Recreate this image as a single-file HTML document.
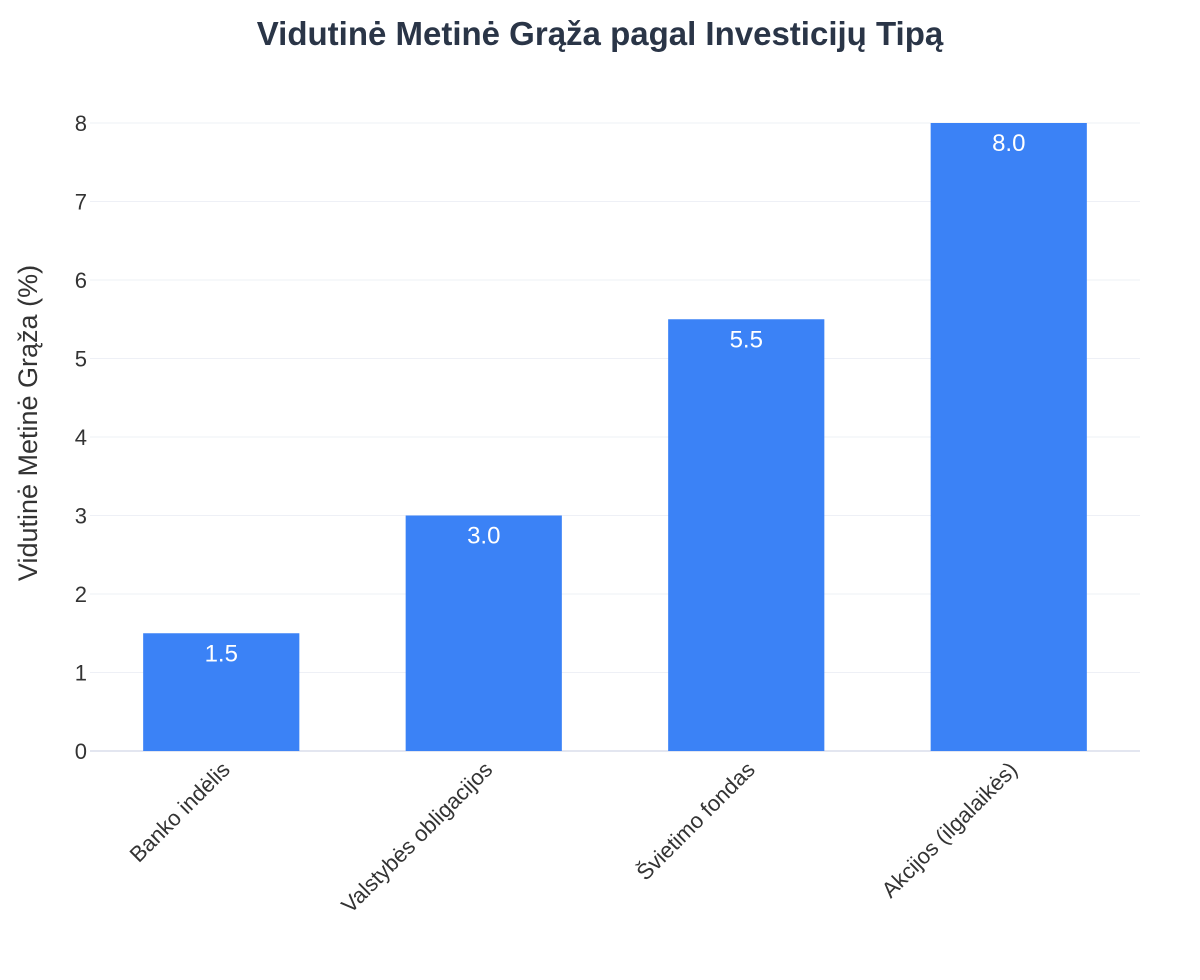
<!DOCTYPE html>
<html><head><meta charset="utf-8"><style>
body{margin:0;background:#fff;}
svg text{font-family:"Liberation Sans",Arial,sans-serif;}
</style></head><body>
<svg id="chart" width="1200" height="975" viewBox="0 0 1200 975" xmlns="http://www.w3.org/2000/svg">
<rect width="1200" height="975" fill="#fff"/>
<text x="600" y="45" text-anchor="middle" font-size="33" font-weight="bold" fill="#2a3547">Vidutinė Metinė Grąža pagal Investicijų Tipą</text>
<text transform="translate(37,423) rotate(-90)" text-anchor="middle" font-size="27" fill="#333">Vidutinė Metinė Grąža (%)</text>
<g id="grid"></g><g id="bars"></g><g id="labels"></g>
</svg>
<script>
const categories=["Banko indėlis","Valstybės obligacijos","Švietimo fondas","Akcijos (ilgalaikės)"];
const values=[1.5,3.0,5.5,8.0];
const yTicks=[0,1,2,3,4,5,6,7,8];
const NS="http://www.w3.org/2000/svg";
const x0=90,x1=1140,yZero=751,yTop=123,yMax=8;
const y=v=>yZero-(v/yMax)*(yZero-yTop);
const band=(x1-x0)/categories.length;
const xc=i=>x0+band*(i+0.5);
const bw=band*0.595;
function mk(t,a,p){const e=document.createElementNS(NS,t);for(const k in a)e.setAttribute(k,a[k]);p.appendChild(e);return e;}
const grid=document.getElementById('grid'),bars=document.getElementById('bars'),labels=document.getElementById('labels');
yTicks.forEach(t=>{
  const l=mk('line',{x1:x0,x2:x1,y1:y(t),y2:y(t),stroke:t===0?'#e3e6f0':'#eef0f6','stroke-width':t===0?2:1},grid);
  
  
  const tx=mk('text',{x:87,y:y(t)+8,'text-anchor':'end','font-size':22,fill:'#333'},grid);
  tx.textContent=t;
  
  
});
categories.forEach((c,i)=>{
  const r=mk('rect',{x:xc(i)-bw/2,y:y(values[i]),width:bw,height:yZero-y(values[i]),fill:'#3b82f6'},bars);
  
  
  const v=mk('text',{x:xc(i),y:y(values[i])+28,'text-anchor':'middle','font-size':24,fill:'#fff'},labels);
  v.textContent=values[i].toFixed(1);
  
  
  const xl=mk('text',{transform:`translate(${xc(i)+10},${yZero+20}) rotate(-45)`,'text-anchor':'end','font-size':22,fill:'#333'},labels);
  xl.textContent=c;
  
  
});
</script>
</body></html>
